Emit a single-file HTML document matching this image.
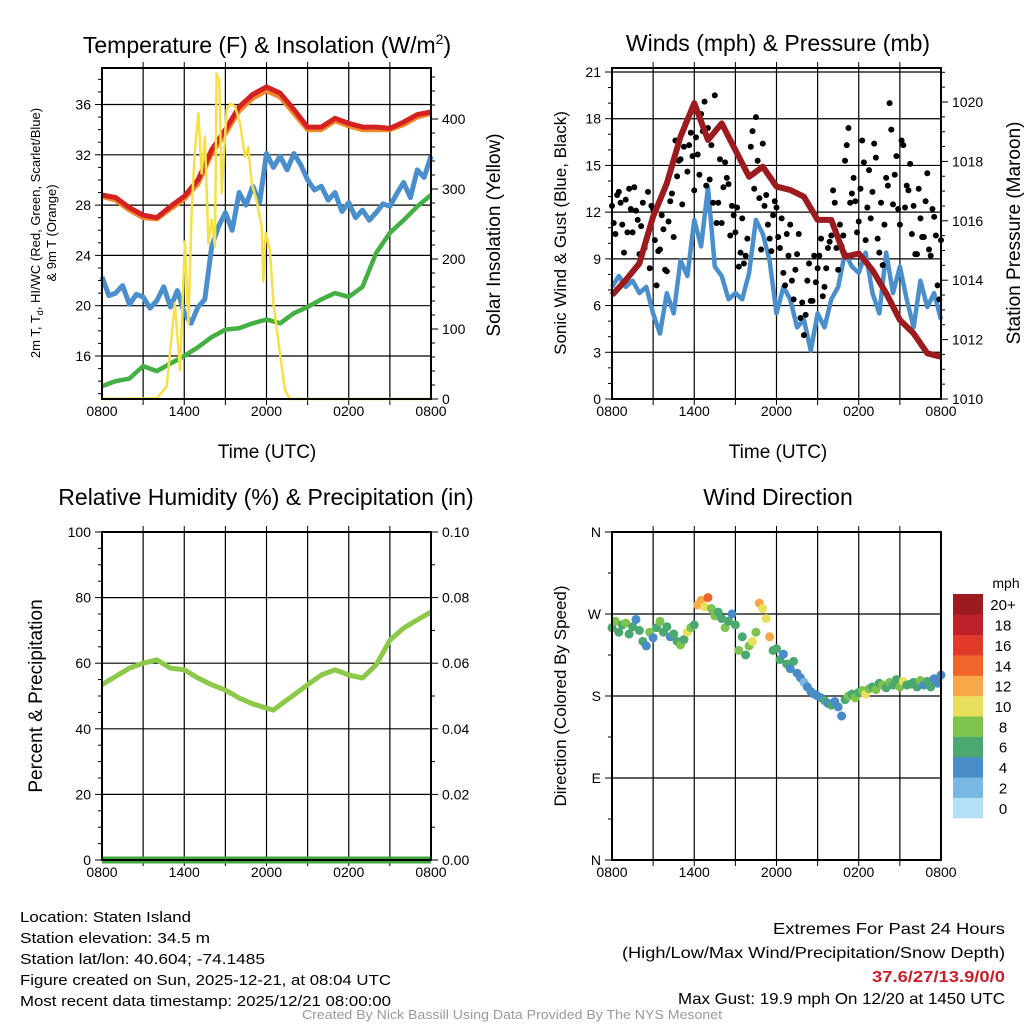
<!DOCTYPE html>
<html><head><meta charset="utf-8">
<style>
html,body{margin:0;padding:0;background:#fff;}
svg{display:block;font-family:"Liberation Sans",Arial,sans-serif;}
</style></head>
<body>
<svg id="fig" width="1024" height="1024" viewBox="0 0 1024 1024" xmlns="http://www.w3.org/2000/svg">
<rect width="1024" height="1024" fill="#fff"/>
<g id="p1"></g>
<g id="p2"></g>
<g id="p3"></g>
<g id="p4"></g>

<text x="267" y="53" font-size="23" text-anchor="middle">Temperature (F) &amp; Insolation (W/m<tspan font-size="14" dy="-9">2</tspan><tspan dy="9">)</tspan></text>
<text x="778" y="51" font-size="23" text-anchor="middle">Winds (mph) &amp; Pressure (mb)</text>
<text x="266" y="505" font-size="23" text-anchor="middle">Relative Humidity (%) &amp; Precipitation (in)</text>
<text x="778" y="505" font-size="23" text-anchor="middle">Wind Direction</text>

<text x="267" y="458" font-size="19" text-anchor="middle">Time (UTC)</text>
<text x="778" y="458" font-size="19" text-anchor="middle">Time (UTC)</text>

<text transform="translate(40,233) rotate(-90)" font-size="13" text-anchor="middle">2m T, T<tspan font-size="9" dy="3">d</tspan><tspan dy="-3">, HI/WC (Red, Green, Scarlet/Blue)</tspan></text>
<text transform="translate(56,233) rotate(-90)" font-size="13" text-anchor="middle">&amp; 9m T (Orange)</text>
<text transform="translate(500,235) rotate(-90)" font-size="19" text-anchor="middle">Solar Insolation (Yellow)</text>
<text transform="translate(566,233) rotate(-90)" font-size="17" text-anchor="middle">Sonic Wind &amp; Gust (Blue, Black)</text>
<text transform="translate(1020,233) rotate(-90)" font-size="19" text-anchor="middle">Station Pressure (Maroon)</text>
<text transform="translate(42,696) rotate(-90)" font-size="19" text-anchor="middle">Percent &amp; Precipitation</text>
<text transform="translate(566,696) rotate(-90)" font-size="17" text-anchor="middle">Direction (Colored By Speed)</text>

<g font-size="15">
<text x="20" y="922" textLength="171" lengthAdjust="spacingAndGlyphs">Location: Staten Island</text>
<text x="20" y="943" textLength="190" lengthAdjust="spacingAndGlyphs">Station elevation: 34.5 m</text>
<text x="20" y="964" textLength="245" lengthAdjust="spacingAndGlyphs">Station lat/lon: 40.604; -74.1485</text>
<text x="20" y="985" textLength="371" lengthAdjust="spacingAndGlyphs">Figure created on Sun, 2025-12-21, at 08:04 UTC</text>
<text x="20" y="1006" textLength="371" lengthAdjust="spacingAndGlyphs">Most recent data timestamp: 2025/12/21 08:00:00</text>
</g>
<g font-size="16">
<text x="773" y="934" textLength="232" lengthAdjust="spacingAndGlyphs">Extremes For Past 24 Hours</text>
<text x="622" y="958" textLength="383" lengthAdjust="spacingAndGlyphs">(High/Low/Max Wind/Precipitation/Snow Depth)</text>
<text x="872" y="982" font-weight="bold" fill="#c8202a" textLength="133" lengthAdjust="spacingAndGlyphs">37.6/27/13.9/0/0</text>
<text x="678" y="1004" textLength="327" lengthAdjust="spacingAndGlyphs">Max Gust: 19.9 mph On 12/20 at 1450 UTC</text>
</g>
<text x="302" y="1019" font-size="13" fill="#999" textLength="420" lengthAdjust="spacingAndGlyphs">Created By Nick Bassill Using Data Provided By The NYS Mesonet</text>
</svg>
<script>
// ---------- DATA ----------
const xTickLabels = ["0800","1400","2000","0200","0800"];
const tempTicks = [16,20,24,28,32,36];
const insolTicks = [0,100,200,300,400];
const tempRed = [28.8,28.6,27.8,27.2,27.0,27.9,28.7,30.0,32.4,34.0,35.8,36.8,37.4,36.9,35.6,34.2,34.2,34.9,34.5,34.2,34.2,34.1,34.6,35.2,35.4];
const tempOrange = [28.7,28.4,27.6,27.0,26.9,27.7,28.5,29.7,32.1,33.7,35.5,36.5,37.1,36.6,35.3,34.0,34.0,34.7,34.3,34.0,34.0,34.0,34.4,35.0,35.3];
const tempGreen = [13.6,14.0,14.2,15.2,14.8,15.4,16.0,16.7,17.5,18.1,18.2,18.6,18.9,18.6,19.4,19.9,20.5,21.0,20.7,21.5,24.2,25.8,26.8,27.9,28.8];
const tempBlue = [22.3,20.8,21.0,21.6,20.1,20.9,20.7,19.8,20.4,21.5,19.9,21.2,19.4,18.6,19.9,20.5,24.7,26.3,27.4,26.0,29.0,28.0,29.5,28.2,32.1,31.0,31.9,30.8,32.1,31.2,30.0,29.2,29.5,28.4,29.0,27.5,28.2,27.0,27.6,26.8,27.4,28.1,27.9,28.9,29.8,28.6,30.8,30.2,31.9];
const insolHours = [0,3.99,4.72,5.32,5.69,6.05,6.3,6.54,6.78,7.03,7.27,7.51,7.76,8.0,8.24,8.36,8.56,8.73,8.9,9.09,9.38,9.7,10.07,10.43,10.67,10.92,11.28,11.65,11.77,11.94,12.25,12.5,12.98,13.35,13.71,24];
const insolValues = [0,1,18,137,41,225,108,270,356,408,322,375,222,256,218,465,456,294,351,413,422,418,394,346,360,308,284,246,168,237,213,137,65,13,0,0];

const windTicks = [0,3,6,9,12,15,18,21];
const pressTicks = [1010,1012,1014,1016,1018,1020];
const pressure = [1013.5,1014.0,1014.57,1016.14,1017.26,1018.83,1019.96,1018.72,1019.28,1018.38,1017.48,1017.82,1017.15,1017.04,1016.81,1016.03,1016.03,1014.79,1014.9,1014.34,1013.56,1012.66,1012.21,1011.54,1011.42];
const windSpeed = [7.2,7.9,7.2,7.6,6.8,7.2,5.5,4.2,6.8,5.5,8.9,7.9,11.5,9.8,13.6,8.5,7.9,6.4,6.8,6.4,8.1,11.5,10.6,8.9,5.5,7.2,6.4,4.6,5.1,3.1,5.5,4.6,6.4,7.2,9.4,8.5,8.1,9.4,6.8,5.5,9.4,6.8,8.5,6.4,4.6,7.6,5.9,6.8,5.1];
const gustA = [12.4,10.6,13.3,11.2,12.8,13.5,10.7,12.1,9.3,12.6,10.2,8.4,12.2,7.3,9.6,10.9,8.2,12.7,10.4,14.3,15.4,16.2,14.6,17.1,13.4,15.7,18.3,19.1,17.4,16.3,19.5,12.6,11.3,15.2,13.8,12.4,10.7,8.5,11.6,9.2,14.4,17.2,18.1,12.9,16.4,13.1,10.3,11.8,12.3,9.7,8.1,10.6,11.2,6.4,9.3,5.2,4.1,7.6,6.3,9.2,8.4,10.3,7.2,9.7,10.5,12.6,8.3,9.8,15.3,17.4,13.2,12.7,11.4,16.6,10.2,14.7,13.3,15.5,9.4,8.6,14.2,19.0,12.5,15.6,11.2,16.3,13.7,15.1,12.4,9.3,11.6,10.4,14.5,9.2,11.7,7.3,10.2];
const gustB = [11.3,13.1,12.6,9.4,10.7,12.2,13.6,11.5,11.1,9.7,13.3,12.4,10.2,9.5,11.8,8.3,11.4,13.2,16.6,15.3,12.5,17.7,16.3,15.6,16.8,14.4,17.2,13.7,14.1,12.6,11.3,15.4,13.6,14.2,10.5,11.8,12.3,9.4,8.7,10.3,16.2,13.5,15.3,9.6,12.4,11.2,9.5,12.7,10.4,11.6,7.3,9.2,7.6,8.3,10.6,6.2,5.4,8.7,6.3,7.5,9.2,6.6,8.4,10.1,13.4,9.7,11.2,10.5,16.3,12.6,14.2,10.7,13.5,15.2,12.3,11.6,16.4,10.3,12.6,11.2,13.7,17.3,14.4,12.2,16.6,12.3,13.4,10.6,9.3,13.5,10.4,12.7,9.6,12.2,10.5,6.4];

const rhTicks = [0,20,40,60,80,100];
const precipTicks = ["0.00","0.02","0.04","0.06","0.08","0.10"];
const rhHours = [0,2,3,4,5,6,7,8,9,10,11,12,12.5,13,14,15,16,17,18,19,20,21,22,23,24];
const rhValues = [53.4,58.5,60,61,58.5,58,55.5,53.4,51.8,49.4,47.6,46.3,45.7,47.3,50.3,53.4,56.4,58,56.4,55.5,59.5,67,70.7,73.2,75.6];
const precip = [0,0];

const dirLabels = ["N","E","S","W","N"];
const dirValues = [255,262,250,258,260,248,256,264,252,240,235,250,244,255,262,250,256,245,248,240,236,242,250,255,258,280,285,278,288,276,268,272,265,255,262,270,258,230,245,225,235,240,250,282,276,265,245,230,232,220,226,215,210,218,205,200,195,190,185,182,180,178,175,172,170,174,168,158,176,180,182,178,184,186,182,188,190,187,194,192,189,195,192,198,190,196,192,193,195,190,197,192,196,190,199,194,203];
const dirSpeeds = [7,8,6,7,8,7,6,5,6,7,5,8,5,7,8,6,6,4,7,6,8,7,10,9,7,12,13,11,15,9,8,7,6,8,7,5,6,8,7,6,9,10,8,12,11,10,12,7,6,7,4,6,5,7,4,5,3,4,5,4,4,5,6,5,6,5,4,4,6,9,7,8,7,9,10,8,7,8,6,9,7,8,6,7,8,10,6,7,7,6,8,5,6,7,5,4,5];
const cbarLabels = ["0","2","4","6","8","10","12","14","16","18","20+"];
const cbarColors = ["#b4e0f6","#7ab8e4","#4a8cc8","#4aa870","#7cc44e","#e8e05a","#f8a848","#f0652a","#e03a2a","#c0202a","#9b1b1e"];

// ---------- HELPERS ----------
const NS="http://www.w3.org/2000/svg";
function mk(parent,tag,attrs){const e=document.createElementNS(NS,tag);for(const k in attrs)e.setAttribute(k,attrs[k]);parent.appendChild(e);return e;}
function lin(d0,d1,r0,r1){return v=>r0+(v-d0)*(r1-r0)/(d1-d0);}
function pathFrom(xs,ys){return xs.map((x,i)=>(i?'L':'M')+x.toFixed(1)+','+ys[i].toFixed(1)).join('');}

function frame(g,L,T,R,B,hGrid){
  for(let h=3;h<24;h+=3){const x=L+(R-L)*h/24;
    const ln=mk(g,'line',{x1:x,x2:x,y1:T,y2:B,stroke:'#000','stroke-width':1.2});
    
    
    const tk=mk(g,'line',{x1:x,x2:x,y1:T-6,y2:T,stroke:'#000','stroke-width':1});
    
    
    const bt=mk(g,'line',{x1:x,x2:x,y1:B,y2:B+6,stroke:'#000','stroke-width':1});
    
    
  }
  hGrid.forEach(y=>{const ln=mk(g,'line',{x1:L,x2:R,y1:y,y2:y,stroke:'#000','stroke-width':1.2});
    
    });
}
function border(g,L,T,R,B){
  const r=mk(g,'rect',{x:L,y:T,width:R-L,height:B-T,fill:'none',stroke:'#000','stroke-width':2});
  
  
}
function xLabels(g,L,R,B){
  xTickLabels.forEach((t,i)=>{const x=L+(R-L)*i/4;
    const tx=mk(g,'text',{x:x,y:B+17,'font-size':14,'text-anchor':'middle'});tx.textContent=t;
    
    });
}
function yTick(g,x,y,len,label,anchor,size){
  const l=mk(g,'line',{x1:x,x2:x+len,y1:y,y2:y,stroke:'#000','stroke-width':1});
  
  
  if(label!==null){const t=mk(g,'text',{x:x+len+(len<0?-4:4),y:y+5,'font-size':size||14,'text-anchor':anchor});t.textContent=label;
    
    }
}

// ---------- PANEL 1 ----------
(function(){
  const g=document.getElementById('p1');const L=102,T=68,R=431,B=399;
  const x=lin(0,24,L,R);const y=lin(16,36,356,104.5);const yr=lin(0,400,399,119);
  frame(g,L,T,R,B,tempTicks.map(y));
  const hh=tempRed.map((_,i)=>i), hb=tempBlue.map((_,i)=>i/2);
  const o=mk(g,'path',{d:pathFrom(hh.map(x),tempOrange.map(y)),fill:'none',stroke:'#f08a2a','stroke-width':5,'stroke-linejoin':'round'});
  
  
  const r=mk(g,'path',{d:pathFrom(hh.map(x),tempRed.map(y)),fill:'none',stroke:'#d42222','stroke-width':5,'stroke-linejoin':'round'});
  
  
  const b=mk(g,'path',{d:pathFrom(hb.map(x),tempBlue.map(y)),fill:'none',stroke:'#4a8fcc','stroke-width':5,'stroke-linejoin':'round'});
  
  
  const gr=mk(g,'path',{d:pathFrom(hh.map(x),tempGreen.map(y)),fill:'none',stroke:'#44b044','stroke-width':4.5,'stroke-linejoin':'round'});
  
  
  const s=mk(g,'path',{d:pathFrom(insolHours.map(x),insolValues.map(yr)),fill:'none',stroke:'#f5e04a','stroke-width':2.5,'stroke-linejoin':'round'});
  
  
  border(g,L,T,R,B);
  for(let v=13;v<=38;v++){yTick(g,L,y(v),-(v%4===0?7:4),v%4===0&&tempTicks.includes(v)?String(v):null,'end');}
  for(let v=0;v<=460;v+=20){yTick(g,R,yr(v),(v%100===0?7:4),v%100===0?String(v):null,'start');}
  xLabels(g,L,R,B);
})();

// ---------- PANEL 2 ----------
(function(){
  const g=document.getElementById('p2');const L=612,T=68,R=941,B=399;
  const x=lin(0,24,L,R);const y=lin(0,21,399,72);const yp=lin(1010,1020,399,102);
  frame(g,L,T,R,B,windTicks.map(y));
  const b=mk(g,'path',{d:pathFrom(windSpeed.map((_,i)=>x(i/2)),windSpeed.map(y)),fill:'none',stroke:'#4a8fcc','stroke-width':4.5,'stroke-linejoin':'round'});
  
  
  gustA.forEach((v,i)=>{const c=mk(g,'circle',{cx:x(i/4),cy:y(v),r:3,fill:'#000'});
    
    });
  gustB.forEach((v,i)=>{const c=mk(g,'circle',{cx:x(i/4+0.125),cy:y(v),r:3,fill:'#000'});
    
    });
  const p=mk(g,'path',{d:pathFrom(pressure.map((_,i)=>x(i)),pressure.map(yp)),fill:'none',stroke:'#9b1b1e','stroke-width':6,'stroke-linejoin':'round'});
  
  
  border(g,L,T,R,B);
  for(let v=0;v<=21;v++){yTick(g,L,y(v),-(v%3===0?7:4),v%3===0?String(v):null,'end');}
  for(let v=1010;v<=1021;v+=0.5){const maj=Math.abs(v%2)<1e-6;yTick(g,R,yp(v),maj?7:4,maj?String(v):null,'start');}
  xLabels(g,L,R,B);
})();

// ---------- PANEL 3 ----------
(function(){
  const g=document.getElementById('p3');const L=102,T=532,R=431,B=860;
  const x=lin(0,24,L,R);const y=lin(0,100,860,532);const yp=lin(0,0.1,860,532);
  frame(g,L,T,R,B,rhTicks.map(y));
  const l=mk(g,'path',{d:pathFrom(rhHours.map(x),rhValues.map(y)),fill:'none',stroke:'#8cc84a','stroke-width':5,'stroke-linejoin':'round'});
  
  
  const pl=mk(g,'path',{d:pathFrom([x(0),x(24)],precip.map(yp)),fill:'none',stroke:'#3ea63e','stroke-width':7});
  
  
  border(g,L,T,R,B);
  for(let v=0;v<=100;v+=5){yTick(g,L,y(v),-(v%20===0?7:4),v%20===0?String(v):null,'end');}
  precipTicks.forEach(t=>yTick(g,R,yp(parseFloat(t)),7,t,'start'));
  for(let v=0.01;v<0.1;v+=0.02){yTick(g,R,yp(v),4,null,'start');}
  xLabels(g,L,R,B);
})();

// ---------- PANEL 4 ----------
(function(){
  const g=document.getElementById('p4');const L=612,T=532,R=941,B=860;
  const x=lin(0,24,L,R);const y=lin(0,360,860,532);
  frame(g,L,T,R,B,[90,180,270].map(y));
  const col=s=>cbarColors[Math.min(10,Math.floor(s/2))];
  dirValues.forEach((d,i)=>{const c=mk(g,'circle',{cx:x(i/4),cy:y(d),r:4.5,fill:col(dirSpeeds[i])});
    
    });
  border(g,L,T,R,B);
  dirLabels.forEach((t,i)=>yTick(g,L,y(i*90),-7,t,'end'));
  for(let v=45;v<360;v+=90){yTick(g,L,y(v),-4,null,'end');}
  xLabels(g,L,R,B);
  const cb=mk(g,'g',{});
  
  
  const h=224/11;
  cbarColors.forEach((c,i)=>{const yy=818-(i+1)*h;
    const r=mk(cb,'rect',{x:953,y:yy,width:30,height:h+0.3,fill:c});
    
    
    const t=mk(cb,'text',{x:1003,y:yy+h/2+6,'font-size':15,'text-anchor':'middle'});t.textContent=cbarLabels[i];
    
    });
  const u=mk(cb,'text',{x:1006,y:588,'font-size':14,'text-anchor':'middle'});u.textContent='mph';
  
  
})();
</script>
</body></html>
